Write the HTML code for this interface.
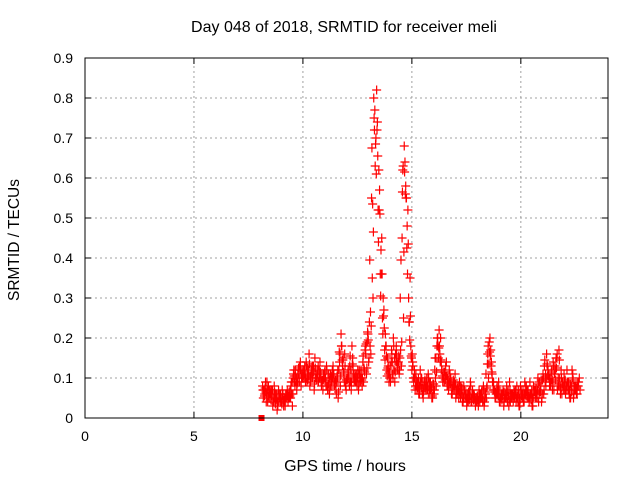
<!DOCTYPE html>
<html><head><meta charset="utf-8"><style>
body{margin:0;background:#fff}
svg{display:block;font-family:"Liberation Sans",sans-serif}
</style></head><body>
<svg id="chart" width="640" height="480" xmlns="http://www.w3.org/2000/svg">
<rect width="640" height="480" fill="#fff"/>
<text x="344" y="32" font-size="16" text-anchor="middle">Day 048 of 2018, SRMTID for receiver meli</text>
<text transform="translate(19,240) rotate(-90)" font-size="15.5" text-anchor="middle">SRMTID / TECUs</text>
<text x="345" y="471" font-size="16" text-anchor="middle">GPS time / hours</text>
<g id="grid"></g><g id="ticks"></g><g id="marks"></g>
<rect x="85" y="58" width="523" height="360" fill="none" stroke="#000" stroke-width="1"/>
</svg>
<script>
const xTicks=[0,5,10,15,20];
const yTicks=[0,0.1,0.2,0.3,0.4,0.5,0.6,0.7,0.8,0.9];
const yTickLabels=["0","0.1","0.2","0.3","0.4","0.5","0.6","0.7","0.8","0.9"];
const tStart=8.1, tStep=0.1;
const seriesA=[8,6,9,5,7,4,6,3,5,7,4,6,5,8,10,12,9,13,11,10,14,12,9,11,15,10,12,8,11,9,7,10,12,8,9,12,21,15,8,10,13,18,9,11,7,10,14,17,19,24,55,80,70,52,36,25,17,12,9,14,20,16,12,15,45,68,55,30,18,13,7,9,6,10,8,7,11,9,5,12,18,22,14,10,13,8,11,6,9,7,5,8,4,6,5,7,4,6,5,3,6,4,5,8,19,14,9,5,7,4,6,5,8,3,6,4,7,5,3,6,4,8,5,6,3,7,5,9,4,6,8,12,9,7,11,15,17,12,8,6,9,5,12,8,6,9];
const seriesB=[5,9,4,7,6,8,5,7,4,6,3,7,5,6,12,9,11,14,10,13,9,16,11,13,10,12,14,9,10,13,11,8,13,9,10,14,18,11,7,12,9,15,11,8,12,10,9,16,21,18,35,72,82,62,42,30,21,15,10,16,12,18,14,17,62,64,48,24,15,9,11,8,12,6,9,10,6,8,7,10,20,16,12,9,14,7,10,8,11,6,9,7,8,6,4,9,7,5,4,7,5,8,6,16,20,11,7,6,9,5,7,6,4,9,5,7,4,6,8,5,9,7,4,6,8,5,10,7,6,13,16,11,9,14,12,7,10,6,11,7,9,5,11,8,6,10];
const seriesC=[7,4,8,6,3,5,2,6,4,3,6,4,7,3,9,7,10,8,12,9,11,8,13,7,10,9,11,7,12,8,6,9,11,7,5,8,13,16,10,9,7,11,9,12,10,8,12,11,14,16,30,63,74,57,45,27,18,13,9,11,9,14,11,13,25,58,52,35,16,12,8,6,10,5,8,7,9,5,6,8,15,20,9,11,8,12,6,9,5,8,6,4,7,3,5,4,6,3,5,4,7,3,5,10,17,9,5,8,4,6,3,5,7,4,6,5,8,3,7,4,6,5,9,3,7,6,4,8,11,9,13,8,12,7,15,10,6,9,7,12,6,8,5,7,9,7];
const x0=85,x1=608,y0=418,y1=58;
const xs=t=>x0+t*(x1-x0)/24;
const ys=v=>y0-v*(y0-y1)/0.9;
const NS="http://www.w3.org/2000/svg";
const grid=document.getElementById('grid'),ticks=document.getElementById('ticks'),marks=document.getElementById('marks');
function mk(tag,attrs,parent){const e=document.createElementNS(NS,tag);for(const k in attrs)e.setAttribute(k,attrs[k]);parent.appendChild(e);return e;}
xTicks.forEach(t=>{const x=xs(t);
 if(t>0){const g=mk('line',{x1:x,x2:x,y1:y0,y2:y1,stroke:'#a0a0a0','stroke-dasharray':'2,3'},grid);
 
 }
 mk('line',{x1:x,x2:x,y1:y0,y2:y0-6,stroke:'#000'},ticks);
 mk('line',{x1:x,x2:x,y1:y1,y2:y1+6,stroke:'#000'},ticks);
 const l=mk('text',{x:x,y:y0+23,'font-size':14,'text-anchor':'middle'},ticks);l.textContent=t;
 
 });
yTicks.forEach((v,i)=>{const y=ys(v);
 if(v>0&&v<0.9){const g=mk('line',{x1:x0,x2:x1,y1:y,y2:y,stroke:'#a0a0a0','stroke-dasharray':'2,3'},grid);
 
 }
 mk('line',{x1:x0,x2:x0+6,y1:y,y2:y,stroke:'#000'},ticks);
 mk('line',{x1:x1,x2:x1-6,y1:y,y2:y,stroke:'#000'},ticks);
 const l=mk('text',{x:x0-12,y:y+5,'font-size':14,'text-anchor':'end'},ticks);l.textContent=yTickLabels[i];
 
 });
function plus(t,v){const x=xs(t),y=ys(v);
 const p=mk('path',{d:`M${x-4.5},${y}h9M${x},${y-4.5}v9`,stroke:'#f00','stroke-width':1.2,fill:'none'},marks);
 
 }
[[seriesA,0.05],[seriesB,0.083],[seriesC,0.117]].forEach(([arr,off])=>{
 arr.forEach((v,i)=>{const t=tStart+i*tStep+off;plus(t,v/100);
  if(i+1<arr.length){const m=(v+arr[i+1])/2;plus(t+0.017,m/100);}});
});
const sq=mk('rect',{x:xs(8.1)-3,y:y0-3,width:6,height:6,fill:'#f00'},marks);


</script>
</body></html>
